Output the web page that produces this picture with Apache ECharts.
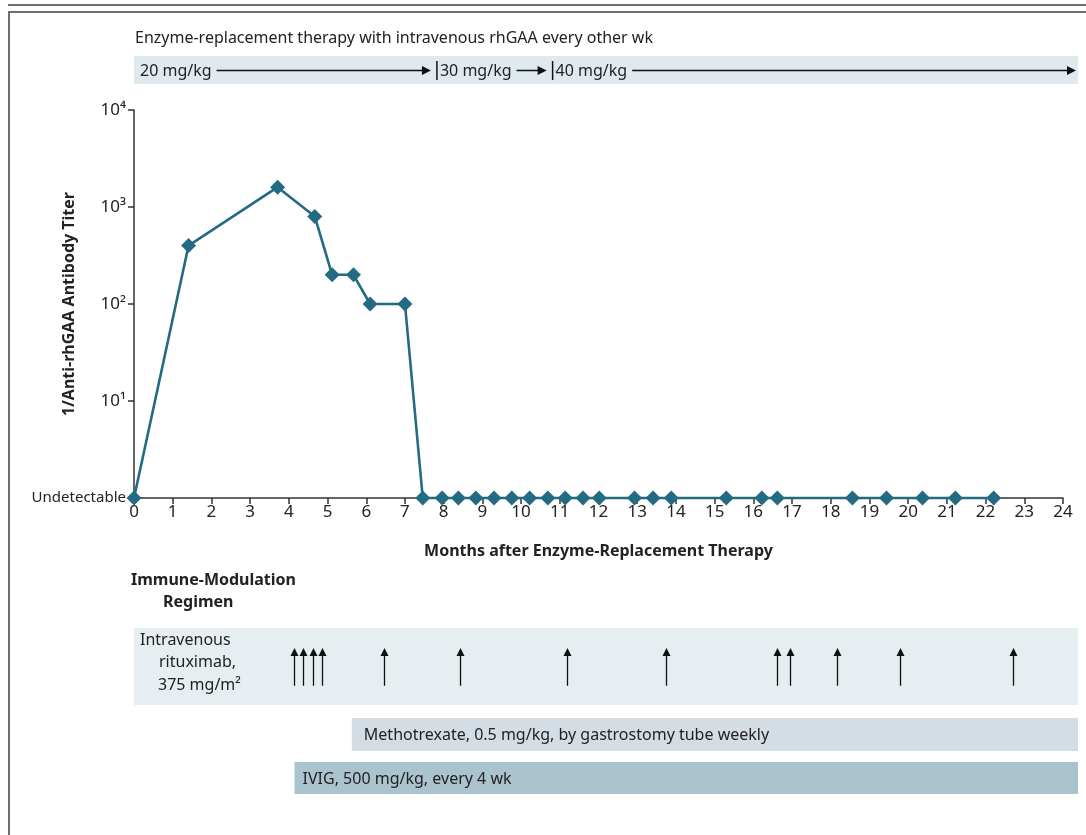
<!DOCTYPE html>
<html>
<head>
<meta charset="utf-8">
<script src="https://cdn.jsdelivr.net/npm/echarts@6/dist/echarts.min.js"></script>
<style>
    html, body { margin: 0; padding: 0; background: #fff; }
    #chart { width: 1086px; height: 835px; }
</style>
</head>
<body>
<div id="chart"></div>
<script>
// anti-rhGAA titer (1 = undetectable), by month after start of ERT
var months = [0, 1.41, 3.71, 4.67, 5.12, 5.67, 6.1, 7.0, 7.46, 7.96, 8.38, 8.83, 9.3, 9.76, 10.22, 10.69,
    11.14, 11.6, 12.02, 12.93, 13.41, 13.88, 15.3, 16.22, 16.62, 18.56, 19.44, 20.37, 21.22, 22.21];
var titers = [1, 400, 1600, 800, 200, 200, 100, 100, 1, 1, 1, 1, 1, 1, 1, 1,
    1, 1, 1, 1, 1, 1, 1, 1, 1, 1, 1, 1, 1, 1];
var yTickValues = [1, 10, 100, 1000, 10000];
var yTickLabels = ['Undetectable', '10\u00b9', '10\u00b2', '10\u00b3', '10\u2074'];

// enzyme-replacement dose steps
var ertDoses = ['20 mg/kg', '30 mg/kg', '40 mg/kg'];
var ertStart = [0, 7.83, 10.82];
var ertEnd = [7.83, 10.82, 24.4];

// immune modulation
var rituximabMonths = [4.13, 4.37, 4.62, 4.86, 6.45, 8.43, 11.2, 13.74, 16.62, 16.95, 18.17, 19.8, 22.72];
var methotrexateSpan = [5.63, 24.4];
var ivigSpan = [4.15, 24.4];
var bandEnd = 24.4;

var FONT = '"Noto Sans", sans-serif';
var LINE_COLOR = '#236a83';

var chart = echarts.init(document.getElementById('chart'));

// hidden axes for the band strips, same scale as the main x axis
function stripGrid(top, height) {
    return { left: 134, right: 8, top: top, height: height };
}
function stripX(idx) {
    return { gridIndex: idx, type: 'value', min: 0, max: bandEnd, show: false };
}
function stripY(idx) {
    return { gridIndex: idx, type: 'value', min: 0, max: 1, show: false };
}

var spanBand = function (fill, label, pad) {
    return function (params, api) {
        var s = api.coord([api.value(0), 1]);
        var e = api.coord([api.value(1), 0]);
        var kids = [{
            type: 'rect',
            shape: { x: s[0], y: s[1], width: e[0] - s[0], height: e[1] - s[1] },
            style: { fill: fill }
        }];
        if (label) {
            kids.push({
                type: 'text',
                style: {
                    text: label, x: s[0] + pad, y: (s[1] + e[1]) / 2 + 1,
                    verticalAlign: 'middle', fill: '#222', font: '16px ' + FONT
                }
            });
        }
        return { type: 'group', children: kids };
    };
};

var ertItem = function (params, api) {
    var i = params.dataIndex;
    var s = api.coord([api.value(0), 1]);
    var e = api.coord([api.value(1), 0]);
    var midY = Math.round((s[1] + e[1]) / 2) + 0.5;
    var last = i === ertDoses.length - 1;
    var tipX = e[0] - (last ? 2 : 6);
    var tx = s[0] + (i === 0 ? 6 : 3);
    var kids = [
        { type: 'rect', shape: { x: s[0], y: s[1], width: e[0] - s[0], height: e[1] - s[1] }, style: { fill: '#dfe9ee' } },
        { type: 'line', shape: { x1: tx, y1: midY, x2: tipX - 6, y2: midY }, style: { stroke: '#111', lineWidth: 1.5 } },
        { type: 'polygon', shape: { points: [[tipX, midY], [tipX - 9, midY - 4.5], [tipX - 9, midY + 4.5]] }, style: { fill: '#111' } },
        {
            type: 'text',
            style: {
                text: ertDoses[i], x: tx, y: midY + 1, verticalAlign: 'middle',
                fill: '#222', font: '16px ' + FONT,
                backgroundColor: '#dfe9ee', padding: [0, 5, 0, 0]
            }
        }
    ];
    if (i > 0) {
        kids.push({ type: 'line', shape: { x1: s[0], y1: s[1] + 5, x2: s[0], y2: e[1] - 4 }, style: { stroke: '#111', lineWidth: 1.5 } });
    }
    return { type: 'group', children: kids };
};

var arrowItem = function (params, api) {
    var base = api.coord([api.value(0), 0.25]);
    var tip = api.coord([api.value(0), 0.74]);
    var x = Math.round(base[0]) + 0.5;
    return {
        type: 'group', children: [
            { type: 'line', shape: { x1: x, y1: base[1], x2: x, y2: tip[1] + 6 }, style: { stroke: '#111', lineWidth: 1.3 } },
            { type: 'polygon', shape: { points: [[x, tip[1]], [x - 4, tip[1] + 8], [x + 4, tip[1] + 8]] }, style: { fill: '#111' } }
        ]
    };
};

var option = {
    backgroundColor: '#fff',
    animation: false,
    textStyle: { fontFamily: FONT },
    grid: [
        { left: 134, right: 23, top: 110, bottom: 337 },
        stripGrid(56, 28),
        stripGrid(628, 77),
        stripGrid(718, 33),
        stripGrid(762, 32)
    ],
    xAxis: [
        {
            gridIndex: 0, type: 'value', min: 0, max: 24, interval: 1,
            name: 'Months after Enzyme-Replacement Therapy',
            nameLocation: 'middle', nameGap: 45, nameMoveOverlap: false,
            nameTextStyle: { fontSize: 16, fontWeight: 'bold', color: '#222' },
            axisLine: { lineStyle: { color: '#333', width: 1.5 } },
            axisTick: { length: 6, lineStyle: { color: '#333', width: 1.5 } },
            axisLabel: { fontSize: 17, color: '#222', margin: 6 },
            splitLine: { show: false }
        },
        stripX(1), stripX(2), stripX(3), stripX(4)
    ],
    yAxis: [
        {
            gridIndex: 0, type: 'log', logBase: 10, min: 1, max: 10000,
            name: '1/Anti-rhGAA Antibody Titer',
            nameLocation: 'middle', nameGap: 57, nameMoveOverlap: false,
            nameTextStyle: { fontSize: 16, fontWeight: 'bold', color: '#222' },
            axisLine: { show: true, lineStyle: { color: '#333', width: 1.5 } },
            axisTick: { show: true, length: 6, lineStyle: { color: '#333', width: 1.5 } },
            axisLabel: {
                color: '#222', margin: 8,
                formatter: function (v) {
                    var k = yTickValues.indexOf(Math.round(v));
                    if (k < 0) return '';
                    return k === 0 ? '{u|' + yTickLabels[k] + '}' : '{p|' + yTickLabels[k] + '}';
                },
                rich: {
                    u: { fontSize: 15, color: '#222', fontFamily: FONT },
                    p: { fontSize: 17, color: '#222', fontFamily: FONT }
                }
            },
            splitLine: { show: false }
        },
        stripY(1), stripY(2), stripY(3), stripY(4)
    ],
    graphic: [
        { type: 'line', shape: { x1: 8, y1: 5, x2: 1086, y2: 5 }, style: { stroke: '#6e6e6e', lineWidth: 2 } },
        { type: 'polyline', shape: { points: [[9, 835], [9, 12], [1086, 12]] }, style: { stroke: '#6e6e6e', lineWidth: 2, fill: null } },
        { type: 'text', left: 135, top: 30, style: { text: 'Enzyme-replacement therapy with intravenous rhGAA every other wk', fill: '#222', font: '16px ' + FONT } },
        { type: 'text', left: 131, top: 572, style: { text: 'Immune-Modulation', fill: '#222', font: 'bold 16px ' + FONT } },
        { type: 'text', left: 163, top: 594, style: { text: 'Regimen', fill: '#222', font: 'bold 16px ' + FONT } },
        { type: 'text', left: 140, top: 632, z: 10, style: { text: 'Intravenous', fill: '#222', font: '16px ' + FONT } },
        { type: 'text', left: 159, top: 654, z: 10, style: { text: 'rituximab,', fill: '#222', font: '16px ' + FONT } },
        { type: 'text', left: 158, top: 677, z: 10, style: { text: '375 mg/m\u00b2', fill: '#222', font: '16px ' + FONT } }
    ],
    series: [
        {
            type: 'line', xAxisIndex: 0, yAxisIndex: 0,
            data: months.map(function (m, i) { return [m, titers[i]]; }),
            symbol: 'diamond', symbolSize: 15,
            lineStyle: { color: LINE_COLOR, width: 2.6 },
            itemStyle: { color: LINE_COLOR },
            clip: false, z: 5
        },
        {
            type: 'custom', xAxisIndex: 1, yAxisIndex: 1, clip: false,
            data: ertDoses.map(function (d, i) { return [ertStart[i], ertEnd[i]]; }),
            renderItem: ertItem
        },
        {
            type: 'custom', xAxisIndex: 2, yAxisIndex: 2, clip: false,
            data: [[0, bandEnd]],
            renderItem: spanBand('#e7eef2', null, 0)
        },
        {
            type: 'custom', xAxisIndex: 2, yAxisIndex: 2, clip: false, z: 3,
            data: rituximabMonths.map(function (m) { return [m, 0]; }),
            renderItem: arrowItem
        },
        {
            type: 'custom', xAxisIndex: 3, yAxisIndex: 3, clip: false,
            data: [methotrexateSpan],
            renderItem: spanBand('#d5dde4', 'Methotrexate, 0.5 mg/kg, by gastrostomy tube weekly', 12)
        },
        {
            type: 'custom', xAxisIndex: 4, yAxisIndex: 4, clip: false,
            data: [ivigSpan],
            renderItem: spanBand('#aac3cf', 'IVIG, 500 mg/kg, every 4 wk', 8)
        }
    ]
};

chart.setOption(option);
</script>
</body>
</html>
